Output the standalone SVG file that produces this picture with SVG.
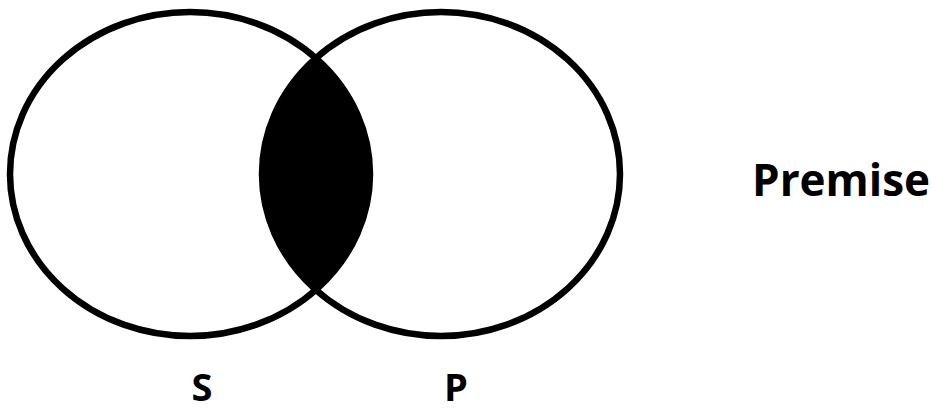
<svg xmlns="http://www.w3.org/2000/svg" width="931" height="413" viewBox="0 0 931 413">
<style>
.c{fill:none;stroke:#000;stroke-width:6.5}
.t{font-family:"Open Sans","Noto Sans",sans-serif;font-weight:bold;fill:#000}
</style>
<defs>
<clipPath id="clipS"><ellipse cx="190" cy="174" rx="180" ry="162"/></clipPath>
</defs>
<rect width="931" height="413" fill="#fff"/>
<g id="shade">
<ellipse cx="441" cy="174" rx="179" ry="162" fill="#000" clip-path="url(#clipS)"/>
</g>
<g id="S">
<ellipse class="c" cx="190" cy="174" rx="180" ry="162"/>
<text class="t" x="202" y="401" font-size="38" text-anchor="middle">S</text>
</g>
<g id="P">
<ellipse class="c" cx="441" cy="174" rx="179" ry="162"/>
<text class="t" x="456" y="401" font-size="38" text-anchor="middle">P</text>
</g>
<g id="premise">
<text class="t" x="752" y="196" font-size="44">Premise</text>
</g>
<g id="connectors"/>
</svg>
